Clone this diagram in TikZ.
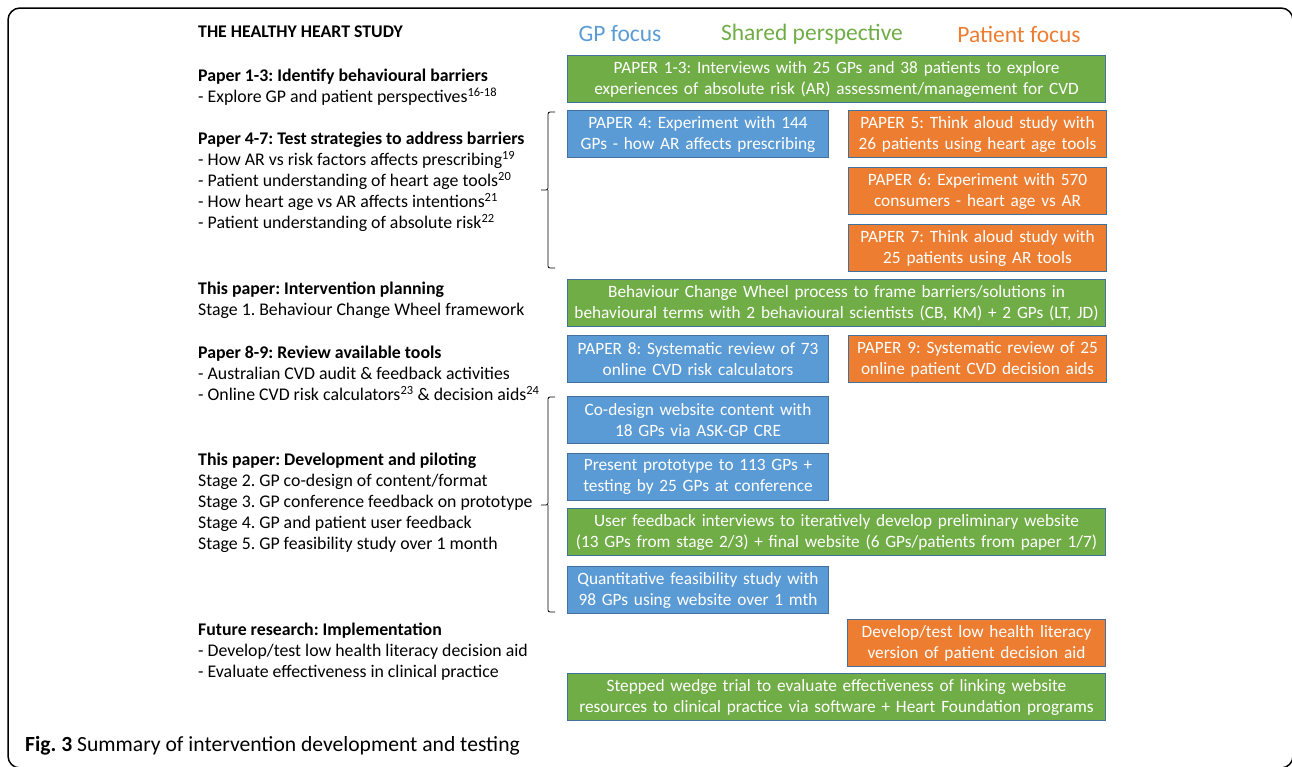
\documentclass[tikz,border=0pt]{standalone}
\usepackage{fontspec}
\setmainfont{Carlito}
\usetikzlibrary{positioning}
\definecolor{gpblue}{HTML}{5B9BD5}
\definecolor{sharedgreen}{HTML}{70AD47}
\definecolor{ptorange}{HTML}{ED7D31}
\definecolor{boxedge}{HTML}{41719C}
\frenchspacing

\begin{document}
\begin{tikzpicture}[x=1pt,y=-1pt,node distance=9pt,
        box/.style={draw=boxedge, line width=1pt, text=white, minimum height=47pt, inner sep=0pt, align=center, font=\fontsize{17.3}{21}\selectfont},
        gp/.style={box, fill=gpblue, minimum width=261pt, text width=258pt},
        pt/.style={box, fill=ptorange, minimum width=258pt, text width=255pt},
        shared/.style={box, fill=sharedgreen, minimum width=538pt, text width=536pt},
        lab/.style={anchor=north west, align=left, inner sep=0pt, font=\fontsize{17.8}{21}\selectfont},
        head/.style={font=\fontsize{23.5}{28}\selectfont}]
        \useasboundingbox (0,0) rectangle (1292,766);
        \draw[line width=1.5pt, rounded corners=12pt] (8,8) rectangle (1293,768);

        % column headings
        \node[head, text=gpblue] (hgp) at (620,34) {GP focus};
        \node[head, text=sharedgreen] (hshared) at (812,34) {Shared perspective};
        \node[head, text=ptorange] (hpt) at (1019,34) {Patient focus};

        % left column
        \node[lab] (lhead) at (198,26) {\textbf{THE HEALTHY HEART STUDY}};
        \node[lab] (lp13) at (198,69) {\textbf{Paper 1-3: Identify behavioural barriers}\\
            - Explore GP and patient perspectives\textsuperscript{16-18}};
        \node[lab] (lp47) at (198,132) {\textbf{Paper 4-7: Test strategies to address barriers}\\
            - How AR vs risk factors affects prescribing\textsuperscript{19}\\
            - Patient understanding of heart age tools\textsuperscript{20}\\
            - How heart age vs AR affects intentions\textsuperscript{21}\\
            - Patient understanding of absolute risk\textsuperscript{22}};
        \node[lab] (lplan) at (198,282) {\textbf{This paper: Intervention planning}\\
            Stage 1. Behaviour Change Wheel framework};
        \node[lab] (lp89) at (198,346) {\textbf{Paper 8-9: Review available tools}\\
            - Australian CVD audit \& feedback activities\\
            - Online CVD risk calculators\textsuperscript{23} \& decision aids\textsuperscript{24}};
        \node[lab] (ldev) at (198,453) {\textbf{This paper: Development and piloting}\\
            Stage 2. GP co-design of content/format\\
            Stage 3. GP conference feedback on prototype\\
            Stage 4. GP and patient user feedback\\
            Stage 5. GP feasibility study over 1 month};
        \node[lab] (lfut) at (198,623) {\textbf{Future research: Implementation}\\
            - Develop/test low health literacy decision aid\\
            - Evaluate effectiveness in clinical practice};

        % boxes
        \node[shared, anchor=north west] (p13) at (567,55) {PAPER 1-3: Interviews with 25 GPs and 38 patients to explore\\experiences of absolute risk (AR) assessment/management for CVD};
        \node[gp, anchor=north west] (p4) at (567,110) {PAPER 4: Experiment with 144\\GPs - how AR affects prescribing};
        \node[pt, right=19pt of p4] (p5) {PAPER 5: Think aloud study with\\26 patients using heart age tools};
        \node[pt, below=of p5] (p6) {PAPER 6: Experiment with 570\\consumers - heart age vs AR};
        \node[pt, below=of p6] (p7) {PAPER 7: Think aloud study with\\25 patients using AR tools};
        \node[shared, anchor=north west] (bcw) at (567,279) {Behaviour Change Wheel process to frame barriers/solutions in\\behavioural terms with 2 behavioural scientists (CB, KM) + 2 GPs (LT, JD)};
        \node[gp, anchor=north west] (p8) at (567,335) {PAPER 8: Systematic review of 73\\online CVD risk calculators};
        \node[pt, right=19pt of p8] (p9) {PAPER 9: Systematic review of 25\\online patient CVD decision aids};
        \node[gp, anchor=north west] (codesign) at (567,396) {Co-design website content with\\18 GPs via ASK-GP CRE};
        \node[gp, below=of codesign] (proto) {Present prototype to 113 GPs +\\testing by 25 GPs at conference};
        \node[shared, anchor=north west] (userfb) at (567,508) {User feedback interviews to iteratively develop preliminary website\\(13 GPs from stage 2/3) + final website (6 GPs/patients from paper 1/7)};
        \node[gp, anchor=north west] (feas) at (567,566) {Quantitative feasibility study with\\98 GPs using website over 1 mth};
        \node[pt, anchor=north west] (lowhl) at (847,619) {Develop/test low health literacy\\version of patient decision aid};
        \node[shared, anchor=north west] (wedge) at (567,673) {Stepped wedge trial to evaluate effectiveness of linking website\\resources to clinical practice via software + Heart Foundation programs};

        % braces
        \coordinate (b1top) at (555,112);
        \coordinate (b1tip) at (541,190);
        \coordinate (b1bot) at (555,268);
        \coordinate (b2top) at (555,397);
        \coordinate (b2tip) at (541,505);
        \coordinate (b2bot) at (555,612);
        \draw[line width=0.8pt, rounded corners=2pt] (b1top) -- (b1top -| 548,0) -- (b1tip -| 548,0) -- (b1tip)
            (b1tip -| 548,0) -- (b1bot -| 548,0) -- (b1bot);
        \draw[line width=0.8pt, rounded corners=2pt] (b2top) -- (b2top -| 548,0) -- (b2tip -| 548,0) -- (b2tip)
            (b2tip -| 548,0) -- (b2bot -| 548,0) -- (b2bot);

        % caption
        \node[anchor=west, inner sep=0pt, font=\fontsize{21.6}{26}\selectfont] (cap) at (25,746) {\textbf{Fig. 3} Summary of intervention development and testing};
    \end{tikzpicture}
\end{document}
